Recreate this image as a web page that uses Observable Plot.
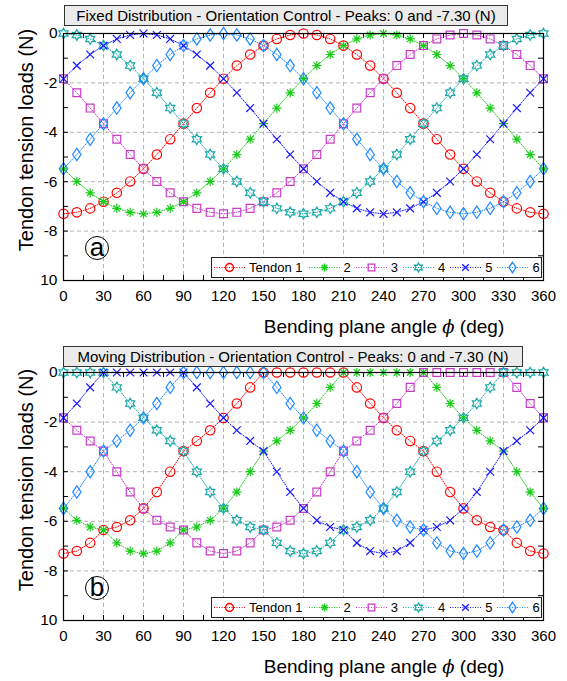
<!DOCTYPE html>
<html><head><meta charset="utf-8">
<script src="https://cdn.jsdelivr.net/npm/d3@7"></script>
<script src="https://cdn.jsdelivr.net/npm/@observablehq/plot@0.6"></script>
<style>
html,body{margin:0;padding:0;background:#fff;}
#fig{position:relative;width:567px;height:681px;font-family:"Liberation Sans",Arial,Helvetica,sans-serif;color:#000;overflow:hidden;background:#fff;}
.panel{position:absolute;left:0;width:567px;}
.panel > svg{position:absolute;left:0;top:0;}
.title{position:absolute;height:21px;background:#ebebeb;border:1px solid #333;font-size:15px;line-height:19px;text-align:center;white-space:nowrap;box-sizing:border-box;}
.ylab{position:absolute;font-size:20px;white-space:nowrap;transform:translate(-50%,-50%) rotate(-90deg);}
.xlab{position:absolute;font-size:19px;white-space:nowrap;transform:translate(-50%,-50%);}
.xlab i{font-family:"DejaVu Serif",serif;font-style:italic;font-size:18px;}
.circ{position:absolute;width:24px;height:24px;border:1.3px solid #000;border-radius:50%;box-sizing:border-box;text-align:center;font-size:26px;line-height:20px;}
.legend{position:absolute;left:211px;top:257px;width:331px;height:21px;border:1px solid #222;background:#fff;display:flex;align-items:center;box-sizing:border-box;font-size:13px;padding-left:2px;white-space:nowrap;overflow:hidden;}
.legend .it{display:flex;align-items:center;flex:none;}
.legend .it svg{display:block;flex:none;}
.legend .lb{margin-left:4px;margin-right:5px;white-space:nowrap;}
</style></head>
<body>
<div id="fig"></div>
<script>
// ---- data ----
const angles = [0,10,20,30,40,50,60,70,80,90,100,110,120,130,140,150,160,170,180,190,200,210,220,230,240,250,260,270,280,290,300,310,320,330,340,350,360];
const seriesNames = ["Tendon 1","2","3","4","5","6"];
const seriesColors = ["#ff0000","#19cc19","#c83cc8","#1aa9a9","#1a1aff","#1f8bff"];

// Fixed distribution
const fixedT1 = [-7.30,-7.24,-7.08,-6.81,-6.45,-5.99,-5.48,-4.90,-4.28,-3.65,-3.02,-2.40,-1.83,-1.30,-0.85,-0.49,-0.22,-0.06,0,-0.06,-0.22,-0.49,-0.85,-1.30,-1.83,-2.40,-3.02,-3.65,-4.28,-4.90,-5.48,-5.99,-6.45,-6.81,-7.08,-7.24,-7.30];
const fixedT2 = [-5.48,-5.99,-6.45,-6.81,-7.08,-7.24,-7.30,-7.24,-7.08,-6.81,-6.45,-5.99,-5.48,-4.90,-4.28,-3.65,-3.02,-2.40,-1.83,-1.30,-0.85,-0.49,-0.22,-0.06,0,-0.06,-0.22,-0.49,-0.85,-1.30,-1.83,-2.40,-3.02,-3.65,-4.28,-4.90,-5.48];
const fixedT3 = [-1.83,-2.40,-3.02,-3.65,-4.28,-4.90,-5.48,-5.99,-6.45,-6.81,-7.08,-7.24,-7.30,-7.24,-7.08,-6.81,-6.45,-5.99,-5.48,-4.90,-4.28,-3.65,-3.02,-2.40,-1.83,-1.30,-0.85,-0.49,-0.22,-0.06,0,-0.06,-0.22,-0.49,-0.85,-1.30,-1.83];
const fixedT4 = [0,-0.06,-0.22,-0.49,-0.85,-1.30,-1.83,-2.40,-3.02,-3.65,-4.28,-4.90,-5.48,-5.99,-6.45,-6.81,-7.08,-7.24,-7.30,-7.24,-7.08,-6.81,-6.45,-5.99,-5.48,-4.90,-4.28,-3.65,-3.02,-2.40,-1.83,-1.30,-0.85,-0.49,-0.22,-0.06,0];
const fixedT5 = [-1.83,-1.30,-0.85,-0.49,-0.22,-0.06,0,-0.06,-0.22,-0.49,-0.85,-1.30,-1.83,-2.40,-3.02,-3.65,-4.28,-4.90,-5.48,-5.99,-6.45,-6.81,-7.08,-7.24,-7.30,-7.24,-7.08,-6.81,-6.45,-5.99,-5.48,-4.90,-4.28,-3.65,-3.02,-2.40,-1.83];
const fixedT6 = [-5.48,-4.90,-4.28,-3.65,-3.02,-2.40,-1.83,-1.30,-0.85,-0.49,-0.22,-0.06,0,-0.06,-0.22,-0.49,-0.85,-1.30,-1.83,-2.40,-3.02,-3.65,-4.28,-4.90,-5.48,-5.99,-6.45,-6.81,-7.08,-7.24,-7.30,-7.24,-7.08,-6.81,-6.45,-5.99,-5.48];

// Moving distribution
const movingT1 = [-7.30,-7.20,-6.87,-6.35,-6.23,-5.96,-5.48,-4.82,-4.00,-3.17,-2.76,-2.33,-1.83,-1.25,-0.60,0,0,0,0,0,0,0,-0.60,-1.25,-1.83,-2.33,-2.76,-3.17,-4.00,-4.82,-5.48,-5.96,-6.23,-6.35,-6.87,-7.20,-7.30];
const movingT2 = [-5.48,-5.96,-6.23,-6.35,-6.87,-7.20,-7.30,-7.20,-6.87,-6.35,-6.23,-5.96,-5.48,-4.82,-4.00,-3.17,-2.76,-2.33,-1.83,-1.25,-0.60,0,0,0,0,0,0,0,-0.60,-1.25,-1.83,-2.33,-2.76,-3.17,-4.00,-4.82,-5.48];
const movingT3 = [-1.83,-2.33,-2.76,-3.17,-4.00,-4.82,-5.48,-5.96,-6.23,-6.35,-6.87,-7.20,-7.30,-7.20,-6.87,-6.35,-6.23,-5.96,-5.48,-4.82,-4.00,-3.17,-2.76,-2.33,-1.83,-1.25,-0.60,0,0,0,0,0,0,0,-0.60,-1.25,-1.83];
const movingT4 = [0,0,0,0,-0.60,-1.25,-1.83,-2.33,-2.76,-3.17,-4.00,-4.82,-5.48,-5.96,-6.23,-6.35,-6.87,-7.20,-7.30,-7.20,-6.87,-6.35,-6.23,-5.96,-5.48,-4.82,-4.00,-3.17,-2.76,-2.33,-1.83,-1.25,-0.60,0,0,0,0];
const movingT5 = [-1.83,-1.25,-0.60,0,0,0,0,0,0,0,-0.60,-1.25,-1.83,-2.33,-2.76,-3.17,-4.00,-4.82,-5.48,-5.96,-6.23,-6.35,-6.87,-7.20,-7.30,-7.20,-6.87,-6.35,-6.23,-5.96,-5.48,-4.82,-4.00,-3.17,-2.76,-2.33,-1.83];
const movingT6 = [-5.48,-4.82,-4.00,-3.17,-2.76,-2.33,-1.83,-1.25,-0.60,0,0,0,0,0,0,0,-0.60,-1.25,-1.83,-2.33,-2.76,-3.17,-4.00,-4.82,-5.48,-5.96,-6.23,-6.35,-6.87,-7.20,-7.30,-7.20,-6.87,-6.35,-6.23,-5.96,-5.48];

// ticks
const xTicks = [0,30,60,90,120,150,180,210,240,270,300,330,360];
const xGridTicks = [30,60,90,120,150,180,210,240,270,300,330];
const xMinorTicks = [0,15,30,45,60,75,90,105,120,135,150,165,180,195,210,225,240,255,270,285,300,315,330,345,360];
const yTicks = [0,-2,-4,-6,-8,-10];
const yTickLabels = ["0","-2","-4","-6","-8","10"];
const yGridTicks = [-2,-4,-6,-8];
const yMinorTicks = [0,-1,-2,-3,-4,-5,-6,-7,-8,-9,-10];

const panelTitles = [
  "Fixed Distribution - Orientation Control - Peaks: 0 and -7.30 (N)",
  "Moving Distribution - Orientation Control - Peaks: 0 and -7.30 (N)"
];
const panelLetters = ["a","b"];
const yTitle = "Tendon tension loads (N)";
const xTitleHTML = "Bending plane angle <i>ϕ</i> (deg)";

// ---- marker symbols ----
const symCircle = {draw(ctx, size){ const r = Math.sqrt(size/Math.PI); ctx.moveTo(r,0); ctx.arc(0,0,r,0,2*Math.PI); ctx.closePath(); }};
const symAsterisk = {draw(ctx, size){ const r = Math.sqrt(size/Math.PI); for (let k=0;k<4;k++){ const a=k*Math.PI/4; ctx.moveTo(r*Math.cos(a), r*Math.sin(a)); ctx.lineTo(-r*Math.cos(a), -r*Math.sin(a)); } }};
const symSquare = {draw(ctx, size){ const h = Math.sqrt(size/Math.PI)*0.85; ctx.rect(-h,-h,2*h,2*h); }};
const symHexagram = {draw(ctx, size){ const R = Math.sqrt(size/Math.PI)*1.1, r = R/Math.sqrt(3); for (let i=0;i<12;i++){ const a=-Math.PI/2+i*Math.PI/6, rr=(i%2)?r:R; const x=rr*Math.cos(a), y=rr*Math.sin(a); if(i) ctx.lineTo(x,y); else ctx.moveTo(x,y);} ctx.closePath(); }};
const symTimes = {draw(ctx, size){ const r = Math.sqrt(size/Math.PI)*0.75; ctx.moveTo(-r,-r); ctx.lineTo(r,r); ctx.moveTo(-r,r); ctx.lineTo(r,-r); }};
const symDiamond = {draw(ctx, size){ const r = Math.sqrt(size/Math.PI); const h = r*1.4, w = r*0.95; ctx.moveTo(0,-h); ctx.lineTo(w,0); ctx.lineTo(0,h); ctx.lineTo(-w,0); ctx.closePath(); }};
const seriesSymbols = [symCircle, symAsterisk, symSquare, symHexagram, symTimes, symDiamond];
const seriesR = [4.7, 4.6, 4.6, 4.8, 5.2, 4.4];

function makePlot(series, H, mt, mb) {
  const W = 567, ml = 63, mr = 24;
  const ih = H - mt - mb, iw = W - ml - mr;
  const marks = [
    Plot.gridX({ticks: xGridTicks, stroke: "#b3b3b3", strokeOpacity: 1, strokeDasharray: "4,3", strokeWidth: 1}),
    Plot.gridY({ticks: yGridTicks, stroke: "#b3b3b3", strokeOpacity: 1, strokeDasharray: "4,3", strokeWidth: 1}),
    Plot.tickX(xMinorTicks, {x: d => d, insetTop: ih - 5, stroke: "#000"}),
    Plot.tickX(xMinorTicks, {x: d => d, insetBottom: ih - 5, stroke: "#000"}),
    Plot.tickY(yMinorTicks, {y: d => d, insetRight: iw - 5, stroke: "#000"}),
    Plot.tickY(yMinorTicks, {y: d => d, insetLeft: iw - 5, stroke: "#000"})
  ];
  series.forEach((vals, i) => {
    const rows = angles.map((x, k) => ({x, y: vals[k]}));
    marks.push(Plot.line(rows, {x: "x", y: "y", stroke: seriesColors[i], strokeWidth: 1, strokeDasharray: "1,1.5"}));
  });
  series.forEach((vals, i) => {
    const rows = angles.map((x, k) => ({x, y: vals[k]}));
    marks.push(Plot.dot(rows, {x: "x", y: "y", symbol: seriesSymbols[i], r: seriesR[i], stroke: seriesColors[i], fill: "none", strokeWidth: 1.2}));
  });
  marks.push(Plot.frame({stroke: "#000", strokeWidth: 1.2}));
  marks.push(Plot.axisX({ticks: xTicks, tickSize: 0, tickPadding: 10, fontSize: 15, label: null, tickFormat: d => String(d)}));
  marks.push(Plot.axisY({ticks: yTicks, tickSize: 0, tickPadding: 6, fontSize: 15.5, label: null, tickFormat: d => yTickLabels[yTicks.indexOf(d)]}));
  return Plot.plot({
    width: W, height: H, marginLeft: ml, marginRight: mr, marginTop: mt, marginBottom: mb,
    x: {domain: [0, 360]}, y: {domain: [-10, 0]},
    style: {fontFamily: "'Liberation Sans', Arial, sans-serif", fontSize: "15px", color: "#000", background: "transparent", overflow: "visible"},
    marks
  });
}

function legendSymbolSVG(i) {
  const svg = d3.create("svg").attr("width", 31).attr("height", 17);
  svg.append("line").attr("x1", 0).attr("x2", 31).attr("y1", 8.5).attr("y2", 8.5)
     .attr("stroke", seriesColors[i]).attr("stroke-width", 1).attr("stroke-dasharray", "1,1.5");
  const r = seriesR[i] * 0.85;
  svg.append("path").attr("transform", "translate(15.5,8.5)")
     .attr("d", d3.symbol().type(seriesSymbols[i]).size(Math.PI * r * r)())
     .attr("fill", "none").attr("stroke", seriesColors[i]).attr("stroke-width", 1.3);
  return svg.node();
}

function makePanel(top, H, mt, mb, series, idx, titleBox) {
  const fig = document.getElementById("fig");
  const p = document.createElement("div");
  p.className = "panel";
  p.style.top = top + "px";
  p.style.height = H + "px";
  p.appendChild(makePlot(series, H, mt, mb));
  // title box
  const t = document.createElement("div");
  t.className = "title";
  t.style.left = titleBox[0] + "px"; t.style.top = titleBox[1] + "px"; t.style.width = titleBox[2] + "px";
  t.textContent = panelTitles[idx];
  p.appendChild(t);
  // y title
  const yl = document.createElement("div");
  yl.className = "ylab"; yl.style.left = "26px"; yl.style.top = "140px";
  yl.textContent = yTitle;
  p.appendChild(yl);
  // x title
  const xl = document.createElement("div");
  xl.className = "xlab"; xl.style.left = "384px"; xl.style.top = "327px";
  xl.innerHTML = xTitleHTML;
  p.appendChild(xl);
  // circled letter
  const c = document.createElement("div");
  c.className = "circ"; c.style.left = "85px"; c.style.top = "236px";
  c.textContent = panelLetters[idx];
  p.appendChild(c);
  // legend
  const lg = document.createElement("div");
  lg.className = "legend";
  seriesNames.forEach((name, i) => {
    const it = document.createElement("div");
    it.className = "it";
    it.appendChild(legendSymbolSVG(i));
    const lb = document.createElement("span");
    lb.className = "lb"; lb.textContent = name;
    if (i === 0) lb.style.marginRight = "6px";
    it.appendChild(lb);
    lg.appendChild(it);
  });
  p.appendChild(lg);
  fig.appendChild(p);
}

makePanel(0, 340, 33, 60, [fixedT1, fixedT2, fixedT3, fixedT4, fixedT5, fixedT6], 0, [64, 5, 444]);
makePanel(340, 341, 32, 61, [movingT1, movingT2, movingT3, movingT4, movingT5, movingT6], 1, [63, 6, 460]);
</script>
</body></html>
